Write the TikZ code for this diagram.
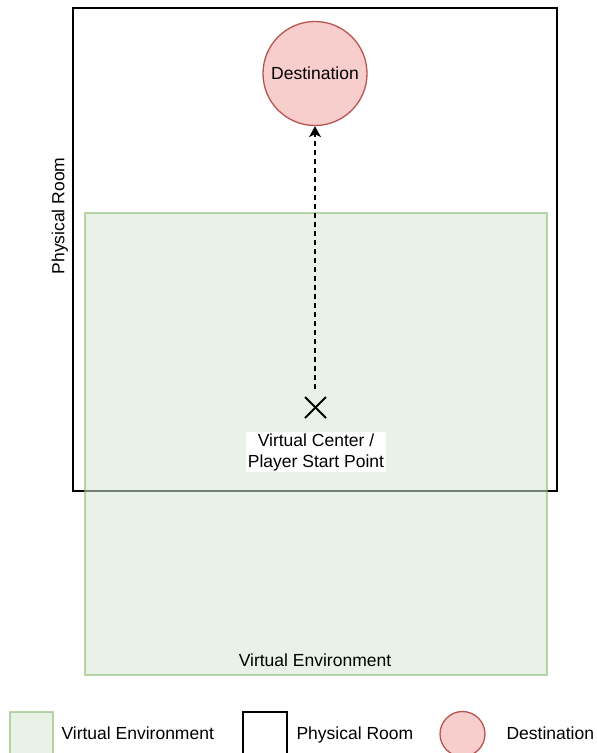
\documentclass[tikz,border=0pt]{standalone}
\usepackage{fontspec}
\setmainfont{Liberation Sans}
\usetikzlibrary{arrows.meta,calc}
\definecolor{envfill}{HTML}{D5E8D4}
\definecolor{envline}{HTML}{82B366}
\definecolor{destfill}{HTML}{F8CECC}
\definecolor{destline}{HTML}{B85450}
\tikzset{
  roombox/.style={draw=black, line width=1.3pt},
  envbox/.style={draw=envline, fill=envfill, line width=1.3pt, opacity=0.55},
  destcircle/.style={circle, draw=destline, fill=destfill, line width=1.3pt, inner sep=0pt},
  txt/.style={font=\fontsize{17.5}{21}\selectfont, text=black},
  lbl/.style={txt, text height=12.6pt, text depth=0pt},
}
\begin{document}
\begin{tikzpicture}[x=1pt, y=-1pt]
\useasboundingbox (0,0) rectangle (597,753);
% physical room outline, under the semi-transparent virtual environment
\draw[roombox] (73,8) rectangle (557,491);
\node[lbl, rotate=90] (roomlbl) at (58,216) {Physical Room};
% virtual environment area
\path[envbox] (85,213) rectangle (547,675);
\node[lbl] (envlbl) at (315,660) {Virtual Environment};
% destination
\node[destcircle, minimum size=104pt, lbl] (dest) at (315,73.5) {Destination};
% virtual center marker
\coordinate (xc) at (315.5,407.5);
\draw[line width=1.8pt] ($(xc)+(-10.5,-10.5)$) -- ($(xc)+(10.5,10.5)$);
\draw[line width=1.8pt] ($(xc)+(-10.5,10.5)$) -- ($(xc)+(10.5,-10.5)$);
\coordinate (start) at (315,389);
\draw[line width=1.3pt, dash pattern=on 5pt off 4pt, -{Stealth[length=11pt,width=12pt,inset=3pt]}] (start) -- (dest.south);
\node[txt, fill=white, align=center, inner sep=1.5pt] (center) at (316,452) {Virtual Center /\\Player Start Point};
% legend
\path[envbox] (10,712) rectangle (53,754);
\node[lbl, anchor=west] (legenv) at (58,733) {Virtual Environment};
\draw[roombox] (243,712) rectangle (287,754);
\node[lbl, anchor=west] (legroom) at (293,733) {Physical Room};
\node[destcircle, minimum size=45pt] (legdest) at (462.5,734) {};
\node[lbl, anchor=west] (legdestlbl) at (503,733) {Destination};
\end{tikzpicture}
\end{document}
